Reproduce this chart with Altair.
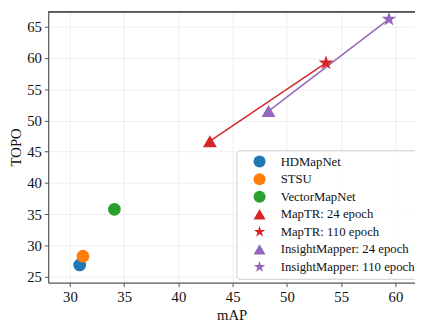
import altair as alt
import pandas as pd

methods = ["HDMapNet", "STSU", "VectorMapNet", "MapTR: 24 epoch", "MapTR: 110 epoch",
           "InsightMapper: 24 epoch", "InsightMapper: 110 epoch"]
map_vals = [30.9, 31.2, 34.1, 42.9, 53.6, 48.3, 59.4]
topo_vals = [26.9, 28.3, 35.8, 46.7, 59.2, 51.5, 66.2]
colors = ["#1f77b4", "#ff7f0e", "#2ca02c", "#d62728", "#d62728", "#9467bd", "#9467bd"]
STAR = ("M0,-1L0.2245,-0.309L0.951,-0.309L0.363,0.118L0.588,0.809L0,0.382"
        "L-0.588,0.809L-0.363,0.118L-0.951,-0.309L-0.2245,-0.309Z")
shapes = ["circle", "circle", "circle", "triangle-up", STAR, "triangle-up", STAR]
sizes = [170, 170, 170, 200, 250, 200, 250]
groups = ["", "", "", "MapTR", "MapTR", "InsightMapper", "InsightMapper"]
x_ticks = [30, 35, 40, 45, 50, 55, 60]
y_ticks = [25, 30, 35, 40, 45, 50, 55, 60, 65]

df = pd.DataFrame({"method": methods, "mAP": map_vals, "TOPO": topo_vals,
                   "group": groups, "size": sizes})

FONT = "Liberation Serif"
W, H = 374, 277
xs = alt.Scale(domain=[28.0, 61.8], nice=False, zero=False)
ys = alt.Scale(domain=[24.06, 67.5], nice=False, zero=False)

xenc = alt.X("mAP:Q", scale=xs, title="mAP", axis=alt.Axis(values=x_ticks))
yenc = alt.Y("TOPO:Q", scale=ys, title="TOPO", axis=alt.Axis(values=y_ticks))

line_maptr = alt.Chart(df).transform_filter(alt.datum.group == "MapTR").mark_line(
    color="#d62728", strokeWidth=1.5).encode(x=xenc, y=yenc)
line_im = alt.Chart(df).transform_filter(alt.datum.group == "InsightMapper").mark_line(
    color="#9467bd", strokeWidth=1.5).encode(x=xenc, y=yenc)

points = alt.Chart(df).mark_point(filled=True, opacity=1).encode(
    x=xenc, y=yenc,
    color=alt.Color("method:N", scale=alt.Scale(domain=methods, range=colors),
                    sort=methods, title=None),
    shape=alt.Shape("method:N", scale=alt.Scale(domain=methods, range=shapes),
                    sort=methods, title=None),
    size=alt.Size("size:Q", scale=None, legend=None),
)

top_rule = alt.Chart(df).mark_rule(color="#555555", strokeWidth=1.2).encode(
    x=alt.value(0), x2=alt.value(W), y=alt.value(0.6))

chart = alt.layer(line_maptr, line_im, points, top_rule).properties(
    width=W, height=H,
    autosize=alt.AutoSizeParams(type="none"),
    padding={"left": 41, "top": 0, "right": 0, "bottom": 40},
).configure(font=FONT).configure_view(stroke=None).configure_axis(
    grid=True, gridColor="#ebebeb", gridWidth=0.8,
    domainColor="#555555", domainWidth=1.2,
    tickColor="#555555", tickSize=4, tickWidth=1,
    labelFont=FONT, labelFontSize=15, labelColor="#111111", labelPadding=3,
    titleFont=FONT, titleFontSize=15, titleFontWeight="normal", titleColor="#111111",
).configure_axisY(titlePadding=3).configure_axisX(titlePadding=4).configure_legend(
    orient="none", legendX=192, legendY=142,
    labelFont=FONT, labelFontSize=13, labelColor="#111111",
    symbolSize=150, symbolType="circle", rowPadding=3.9,
    padding=5, symbolOffset=12, labelOffset=15,
    strokeColor="#cccccc", cornerRadius=3, fillColor="rgba(255,255,255,0.85)",
    symbolStrokeWidth=0, labelLimit=300,
)

chart.save("out.html", embed_options={"renderer": "svg", "actions": False})
